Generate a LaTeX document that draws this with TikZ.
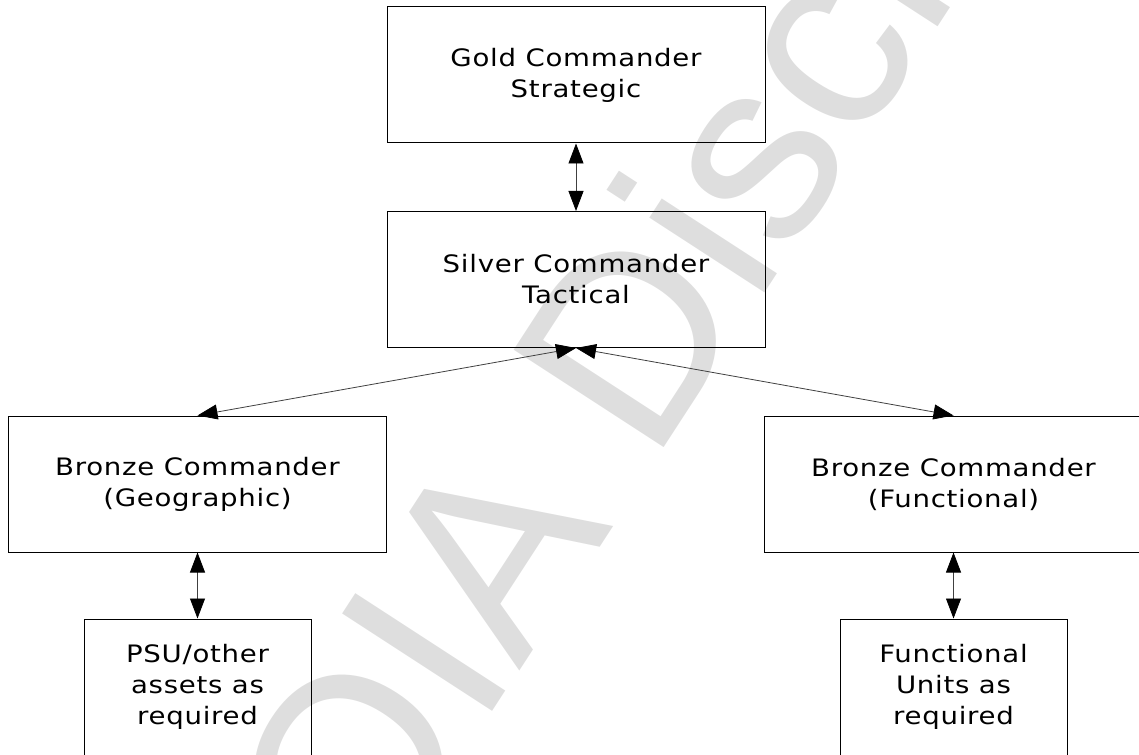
\documentclass[tikz,border=0pt]{standalone}
\usepackage{fontspec}
\newfontfamily\boxfont{DejaVu Sans}[FakeStretch=1.15,LetterSpace=3]
\newfontfamily\markfont{Liberation Sans}
\usetikzlibrary{arrows.meta,positioning}

\begin{document}
\begin{tikzpicture}[x=0.5pt,y=-0.5pt,
    >={Triangle[length=10pt,width=7.5pt]},
    cmd/.style={draw, line width=0.5pt, minimum width=189pt, minimum height=68pt, align=center, inner sep=0pt, font=\boxfont\fontsize{12}{15.5}\selectfont},
    unit/.style={cmd, minimum width=113.5pt},
    link/.style={<->, line width=0.4pt, draw=black!75, >={Triangle[length=10pt,width=7.5pt,color=black]}},
    wmark/.style={text=black!13, font=\markfont\fontsize{130}{130}\selectfont, rotate=57, anchor=base west, inner sep=0pt}]
    \useasboundingbox (0,0) rectangle (1139,754);
    \clip (0,0) rectangle (1139,754);
    % watermark behind the chart
    \node[wmark] (mark) at (283,1035) {FOIA Disclosure};
    % command levels
    \node[cmd] (gold) at (576,75) {Gold Commander\\Strategic};
    \node[cmd] (silver) at (576,279.5) {Silver Commander\\Tactical};
    \node[cmd] (geo) at (197.5,484) {Bronze Commander\\(Geographic)};
    \node[cmd] (func) at (953.5,484) {Bronze Commander\\(Functional)};
    \node[unit] (psu) at (197.5,687) {PSU/other\\assets as\\required};
    \node[unit] (funit) at (953.5,687) {Functional\\Units as\\required};
    \draw[link] (gold) -- (silver);
    \draw[link] (silver.south) -- (geo.north);
    \draw[link] (silver.south) -- (func.north);
    \draw[link] (geo) -- (psu);
    \draw[link] (func) -- (funit);
\end{tikzpicture}
\end{document}
